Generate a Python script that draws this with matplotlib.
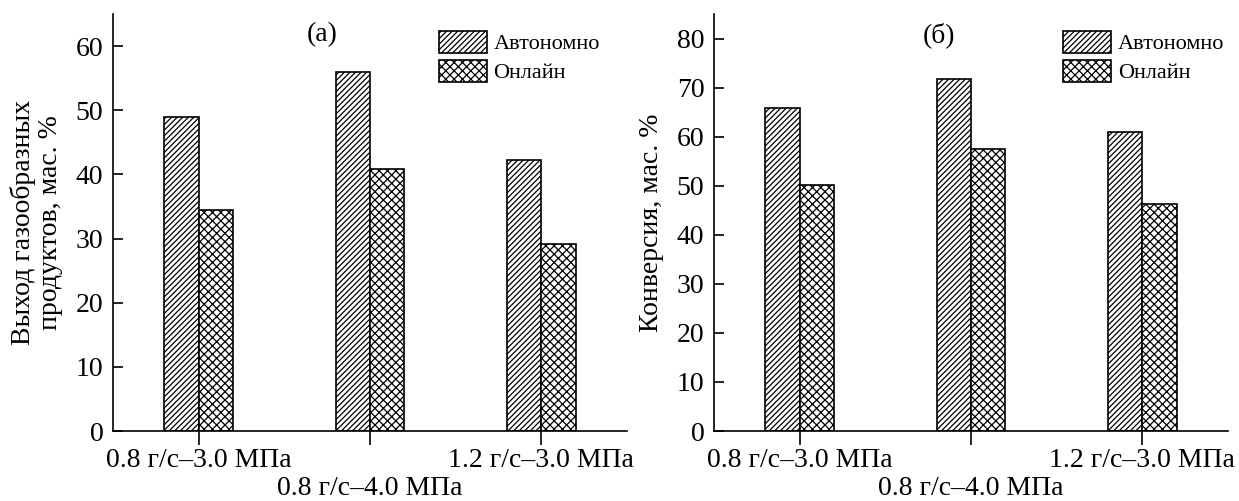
import matplotlib.pyplot as plt
from matplotlib.patches import Patch
import numpy as np

plt.rcParams['font.family'] = ['Liberation Serif', 'DejaVu Serif']
plt.rcParams['hatch.linewidth'] = 0.9

categories = ["0.8 г/с–3.0 МПа", "\n0.8 г/с–4.0 МПа", "1.2 г/с–3.0 МПа"]
series_names = ["Автономно", "Онлайн"]

# (a) gas yield
gas_auto = [49.0, 55.9, 42.2]
gas_online = [34.4, 40.9, 29.2]
# (б) conversion
conv_auto = [65.9, 71.7, 60.9]
conv_online = [50.2, 57.5, 46.3]

x = np.arange(len(categories))
w = 0.2
hatches = ['//////', 'xxxx']

fig = plt.figure(figsize=(12.39, 5.01), dpi=100)
ax1 = fig.add_axes([0.0912, 0.1397, 0.4149, 0.8323])
ax2 = fig.add_axes([0.5763, 0.1397, 0.4149, 0.8323])


def draw(ax, auto, online, ymax, yticks, ylabel, tag, tag_x, leg_x):
    ax.bar(x - w / 2, auto, w, color='white', edgecolor='black', linewidth=1.2, hatch=hatches[0])
    ax.bar(x + w / 2, online, w, color='white', edgecolor='black', linewidth=1.2, hatch=hatches[1])
    ax.set_xlim(-0.5, 2.5)
    ax.set_ylim(0, ymax)
    ax.set_yticks(yticks)
    ax.set_xticks(x)
    ax.set_xticklabels(categories, fontsize=20, linespacing=1.2)
    ax.tick_params(axis='y', direction='in', length=7, width=1.2, labelsize=20, pad=7)
    ax.tick_params(axis='x', direction='out', length=10, width=1.2, pad=2)
    for s in ['top', 'right']:
        ax.spines[s].set_visible(False)
    for s in ['left', 'bottom']:
        ax.spines[s].set_linewidth(1.2)
    ax.set_ylabel(ylabel, fontsize=20, linespacing=1.1, labelpad=9)
    ax.text(tag_x, 0.98, tag, transform=ax.transAxes,
            ha='center', va='top', fontsize=20)
    handles = [Patch(facecolor='white', edgecolor='black', hatch=h, linewidth=1.2)
               for h in hatches]
    ax.legend(handles, series_names, loc='upper left', bbox_to_anchor=(leg_x, 0.96),
              frameon=False, fontsize=16, handlelength=2.16, handleheight=1.15,
              handletextpad=0.3, labelspacing=0.25, borderpad=0, borderaxespad=0)


draw(ax1, gas_auto, gas_online, 65, range(0, 61, 10),
     "Выход газообразных\nпродуктов, мас. %", "(a)", 0.407, 0.634)
draw(ax2, conv_auto, conv_online, 85, range(0, 81, 10),
     "Конверсия, мас. %", "(б)", 0.438, 0.679)

fig.savefig("out.png", dpi=100)
